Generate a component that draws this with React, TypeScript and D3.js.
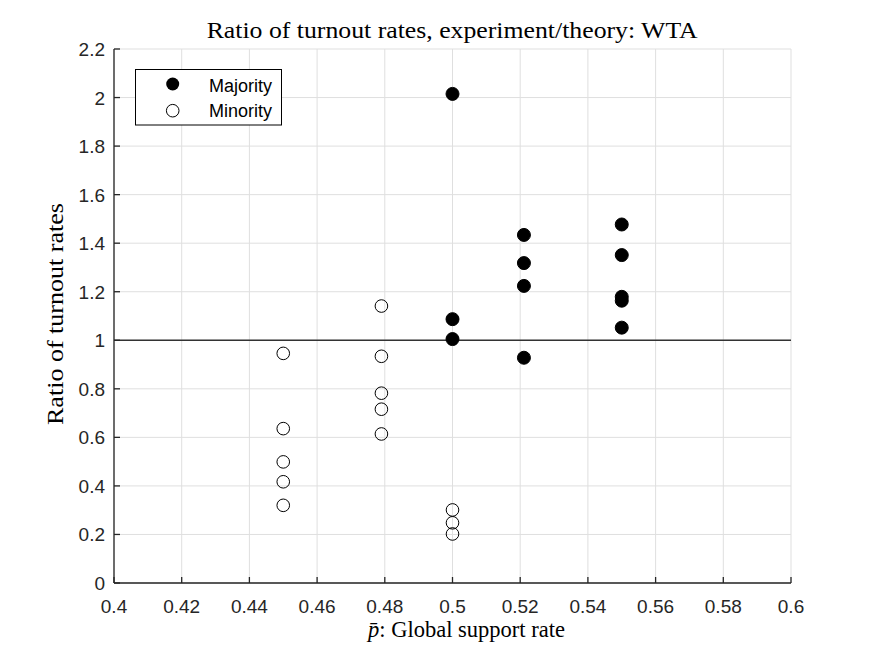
import React from "react";
import * as d3 from "d3";

// values
const majorityX = [0.5, 0.5, 0.5, 0.5211, 0.5211, 0.5211, 0.5211, 0.55, 0.55, 0.55, 0.55, 0.55];
const majorityY = [2.015, 1.087, 1.005, 1.434, 1.318, 1.224, 0.928, 1.477, 1.351, 1.179, 1.163, 1.052];
const minorityX = [0.45, 0.45, 0.45, 0.45, 0.45, 0.479, 0.479, 0.479, 0.479, 0.479, 0.5, 0.5, 0.5];
const minorityY = [0.946, 0.636, 0.499, 0.417, 0.32, 1.141, 0.934, 0.782, 0.716, 0.614, 0.301, 0.248, 0.202];
const xTicks = [0.4, 0.42, 0.44, 0.46, 0.48, 0.5, 0.52, 0.54, 0.56, 0.58, 0.6];
const yTicks = [0, 0.2, 0.4, 0.6, 0.8, 1, 1.2, 1.4, 1.6, 1.8, 2, 2.2];

const width = 875;
const height = 656;
const left = 114;
const right = 791;
const top = 49;
const bottom = 583;

const sans = "'Liberation Sans', Arial, Helvetica, sans-serif";
const serif = "'Liberation Serif', 'DejaVu Serif', serif";
const axisColor = "#262626";

export default function App() {
  const x = d3.scaleLinear().domain([0.4, 0.6]).range([left, right]);
  const y = d3.scaleLinear().domain([0, 2.2]).range([bottom, top]);
  const fmt = (d: number) => String(+d.toFixed(2));

  return (
    <svg width={width} height={height} style={{ display: "block", position: "absolute", left: 0, top: 0 }}>
      <rect width={width} height={height} fill="#fff" />

      {/* grid */}
      {xTicks.map((t) => (
        <line key={"gx" + t} x1={x(t)} x2={x(t)} y1={top} y2={bottom} stroke="#dfdfdf" strokeWidth={1} />
      ))}
      {yTicks.map((t) => (
        <line key={"gy" + t} x1={left} x2={right} y1={y(t)} y2={y(t)} stroke="#dfdfdf" strokeWidth={1} />
      ))}

      {/* reference line at 1 */}
      <line x1={left} x2={right} y1={y(1)} y2={y(1)} stroke="#333" strokeWidth={1.3} />

      {/* axes */}
      <line x1={left} x2={right} y1={bottom} y2={bottom} stroke={axisColor} strokeWidth={1.3} />
      <line x1={left} x2={left} y1={top} y2={bottom} stroke={axisColor} strokeWidth={1.3} />
      {xTicks.map((t) => (
        <g key={"tx" + t}>
          <line x1={x(t)} x2={x(t)} y1={bottom} y2={bottom - 6} stroke={axisColor} strokeWidth={1.3} />
          <text x={x(t)} y={bottom + 30} textAnchor="middle" fontFamily={sans} fontSize={19} fill={axisColor}>
            {fmt(t)}
          </text>
        </g>
      ))}
      {yTicks.map((t) => (
        <g key={"ty" + t}>
          <line x1={left} x2={left + 6} y1={y(t)} y2={y(t)} stroke={axisColor} strokeWidth={1.3} />
          <text x={left - 9} y={y(t) + 7} textAnchor="end" fontFamily={sans} fontSize={19} fill={axisColor}>
            {fmt(t)}
          </text>
        </g>
      ))}

      {/* points */}
      {majorityX.map((v, i) => (
        <circle key={"ma" + i} cx={x(v)} cy={y(majorityY[i])} r={6.5} fill="#000" stroke="#000" strokeWidth={1} />
      ))}
      {minorityX.map((v, i) => (
        <circle key={"mi" + i} cx={x(v)} cy={y(minorityY[i])} r={6.3} fill="none" stroke="#000" strokeWidth={1} />
      ))}

      {/* legend */}
      <rect x={135.5} y={69.5} width={146} height={55.5} fill="#fff" stroke="#000" strokeWidth={1} />
      <circle cx={172.7} cy={84} r={6.5} fill="#000" />
      <circle cx={172.7} cy={110.7} r={6.3} fill="none" stroke="#000" strokeWidth={1} />
      <text x={209} y={91.5} fontFamily={sans} fontSize={18} fill="#000">Majority</text>
      <text x={209} y={117} fontFamily={sans} fontSize={18} fill="#000">Minority</text>

      {/* titles */}
      <text x={206.7} y={38.3} fontFamily={serif} fontSize={23} fill="#000" textLength={491} lengthAdjust="spacingAndGlyphs">
        Ratio of turnout rates, experiment/theory: WTA
      </text>
      <text x={368} y={636.7} fontFamily={serif} fontSize={23} fill="#000" textLength={197} lengthAdjust="spacingAndGlyphs">
        <tspan fontStyle="italic">p̄</tspan>: Global support rate
      </text>
      <text
        transform={`translate(63,425) rotate(-90)`}
        fontFamily={serif}
        fontSize={23}
        fill="#000"
        textLength={222}
        lengthAdjust="spacingAndGlyphs"
      >
        Ratio of turnout rates
      </text>
    </svg>
  );
}
